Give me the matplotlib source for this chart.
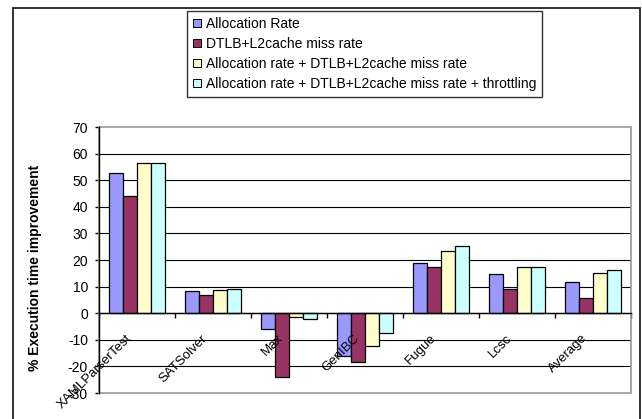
import matplotlib
matplotlib.use("Agg")
import matplotlib.pyplot as plt
from matplotlib.patches import Rectangle
from matplotlib.lines import Line2D
import matplotlib.transforms as mtransforms
import numpy as np

plt.rcParams['font.family'] = ['Liberation Sans', 'DejaVu Sans']

categories = ["XAMLParserTest", "SATSolver", "Max", "GenIBC", "Fugue", "Lcsc", "Average"]
series_names = [
    "Allocation Rate",
    "DTLB+L2cache miss rate",
    "Allocation rate + DTLB+L2cache miss rate",
    "Allocation rate + DTLB+L2cache miss rate + throttling",
]
alloc_rate = [52.8, 8.4, -6.1, -16.0, 19.0, 14.8, 11.9]
dtlb_l2_miss = [43.9, 6.8, -23.9, -18.5, 17.5, 9.0, 5.9]
alloc_plus_miss = [56.4, 8.8, -1.6, -12.2, 23.2, 17.2, 15.3]
alloc_miss_throttle = [56.4, 9.1, -2.1, -7.3, 25.2, 17.2, 16.4]
series_values = [alloc_rate, dtlb_l2_miss, alloc_plus_miss, alloc_miss_throttle]
colors = ["#9999FF", "#993366", "#FFFFCC", "#CCFFFF"]
y_ticks = list(range(-30, 71, 10))

W, H = 642, 419
fig = plt.figure(figsize=(W / 100, H / 100), dpi=100)
fig.patch.set_facecolor("white")

# outer chart frame
fig.patches.append(Rectangle((13 / W, -0.05), (640 - 13) / W, 1.05 - 8 / H,
                             transform=fig.transFigure, fill=False,
                             edgecolor="#222222", linewidth=1.3))

ax = fig.add_axes([99 / W, 1 - 393 / H, (631 - 99) / W, (393 - 127) / H])
ax.set_facecolor("white")

x = np.arange(len(categories))
bar_w = 1 / 5.5
for k, (vals, col) in enumerate(zip(series_values, colors)):
    ax.bar(x + (k - 1.5) * bar_w, vals, width=bar_w, color=col,
           edgecolor="black", linewidth=0.9, zorder=2)

ax.set_xlim(-0.5, len(categories) - 0.5)
ax.set_ylim(-30, 70)
ax.set_yticks(y_ticks)
ax.set_yticklabels([str(v) for v in y_ticks], fontsize=10)
ax.set_axisbelow(True)
ax.yaxis.grid(True, color="black", linewidth=0.8)
glines = ax.yaxis.get_gridlines()
glines[0].set_visible(False)
glines[-1].set_visible(False)

# category axis at zero with boundary tick marks
ax.spines['bottom'].set_position(('data', 0))
ax.spines['bottom'].set_color("black")
ax.spines['bottom'].set_linewidth(1.0)
ax.spines['bottom'].set_zorder(3)
ax.spines['left'].set_color("black")
ax.spines['left'].set_linewidth(1.0)
ax.spines['top'].set_visible(False)
ax.spines['right'].set_visible(False)

# gray plot-area border
ax.add_patch(Rectangle((0, 0), 1, 1, transform=ax.transAxes, fill=False,
                       edgecolor="#9a9a9a", linewidth=1.2, zorder=1, clip_on=False))

ax.set_xticks(np.arange(-0.5, len(categories), 1.0))
ax.set_xticklabels([])
ax.tick_params(axis='x', length=3.5, width=1.0, direction='out')
ax.tick_params(axis='y', which='major', length=3, width=1.0, direction='out', pad=5)

# category names drawn on top of the bars
lab_tf = ax.transData + mtransforms.ScaledTranslation(-3 / 100, -19 / 100, fig.dpi_scale_trans)
for xi, name in zip(x, categories):
    ax.text(xi, 0, name, transform=lab_tf, rotation=45, ha='right', va='top',
            fontsize=9.5, zorder=5, clip_on=False)

fig.text(35 / W, 1 - 268 / H, "% Execution time improvement", rotation=90,
         ha='center', va='center', fontsize=10, fontweight='bold')

# legend
leg_handles = [Line2D([], [], marker='s', linestyle='none', markersize=5.5,
                      markerfacecolor=c, markeredgecolor='black',
                      markeredgewidth=0.7) for c in colors]
leg = fig.legend(leg_handles, series_names, loc='upper left',
                 bbox_to_anchor=(187 / W, 1 - 11 / H), fontsize=10,
                 frameon=True, fancybox=False, shadow=False, handlelength=0.6,
                 handletextpad=0.35, borderpad=0.4, labelspacing=0.45,
                 borderaxespad=0)
leg.get_frame().set_edgecolor("black")
leg.get_frame().set_linewidth(1.0)

fig.savefig("out.png", dpi=100, facecolor="white")
